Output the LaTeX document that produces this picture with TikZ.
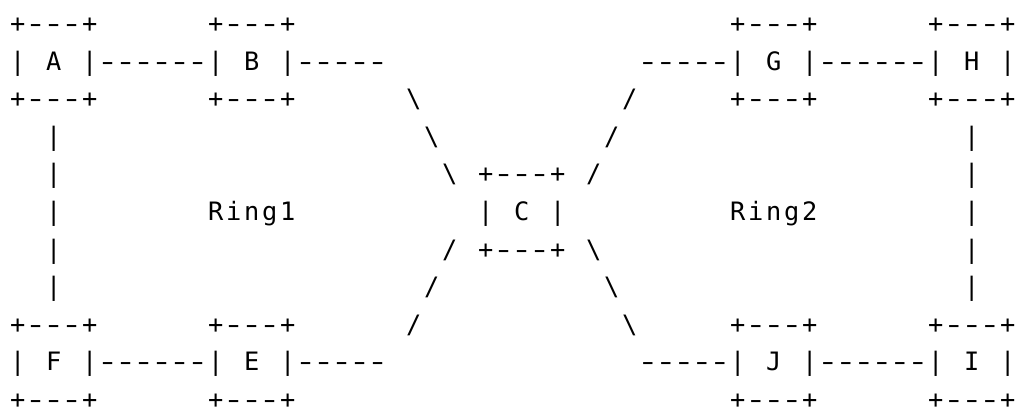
\documentclass[tikz,border=0pt]{standalone}
\usepackage{fontspec}
\usepackage{graphicx}
\newfontfamily\asciifont{DejaVu Sans Mono}
\newcommand\bs{\textbackslash}
\newcommand\cellbox[1]{\makebox[13.5pt][c]{#1}}
\def\cellseq#1{\ifx#1\relax\else\ifx#1.\cellbox{}\else\ifx#1-\cellbox{\scalebox{1.45}[1]{-}}\else\cellbox{#1}\fi\fi\expandafter\cellseq\fi}
\tikzset{
  frag/.style={anchor=base west, inner sep=0pt, outer sep=0pt, text=black,
    font=\asciifont\fontsize{19pt}{19pt}\selectfont}
}
\newcommand\frag[4]{\node[frag] (#1) at ({8.8+18*#3},{32.6+37.6*(#2-1)}) {\cellseq#4\relax};}
\begin{document}
\begin{tikzpicture}[x=0.75pt,y=-0.75pt]
\fill[white] (0,0) rectangle (1017,409);
\useasboundingbox (0,0) rectangle (1017,409);
% row 1
\frag{Atop}{1}{0}{+---+}
\frag{Btop}{1}{11}{+---+}
\frag{Gtop}{1}{40}{+---+}
\frag{Htop}{1}{51}{+---+}
% row 2
\frag{A}{2}{0}{|.A.|}
\frag{AB}{2}{5}{------}
\frag{B}{2}{11}{|.B.|}
\frag{Bout}{2}{16}{-----}
\frag{Gin}{2}{35}{-----}
\frag{G}{2}{40}{|.G.|}
\frag{GH}{2}{45}{------}
\frag{H}{2}{51}{|.H.|}
% row 3
\frag{Abot}{3}{0}{+---+}
\frag{Bbot}{3}{11}{+---+}
\frag{BC1}{3}{22}{\bs}
\frag{GC1}{3}{34}{/}
\frag{Gbot}{3}{40}{+---+}
\frag{Hbot}{3}{51}{+---+}
% row 4
\frag{AF1}{4}{2}{|}
\frag{BC2}{4}{23}{\bs}
\frag{GC2}{4}{33}{/}
\frag{HI1}{4}{53}{|}
% row 5
\frag{AF2}{5}{2}{|}
\frag{BC3}{5}{24}{\bs}
\frag{Ctop}{5}{26}{+---+}
\frag{GC3}{5}{32}{/}
\frag{HI2}{5}{53}{|}
% row 6
\frag{AF3}{6}{2}{|}
\frag{ring1}{6}{11}{Ring1}
\frag{C}{6}{26}{|.C.|}
\frag{ring2}{6}{40}{Ring2}
\frag{HI3}{6}{53}{|}
% row 7
\frag{AF4}{7}{2}{|}
\frag{EC3}{7}{24}{/}
\frag{Cbot}{7}{26}{+---+}
\frag{JC3}{7}{32}{\bs}
\frag{HI4}{7}{53}{|}
% row 8
\frag{AF5}{8}{2}{|}
\frag{EC2}{8}{23}{/}
\frag{JC2}{8}{33}{\bs}
\frag{HI5}{8}{53}{|}
% row 9
\frag{Ftop}{9}{0}{+---+}
\frag{Etop}{9}{11}{+---+}
\frag{EC1}{9}{22}{/}
\frag{JC1}{9}{34}{\bs}
\frag{Jtop}{9}{40}{+---+}
\frag{Itop}{9}{51}{+---+}
% row 10
\frag{F}{10}{0}{|.F.|}
\frag{FE}{10}{5}{------}
\frag{E}{10}{11}{|.E.|}
\frag{Eout}{10}{16}{-----}
\frag{Jin}{10}{35}{-----}
\frag{J}{10}{40}{|.J.|}
\frag{JI}{10}{45}{------}
\frag{I}{10}{51}{|.I.|}
% row 11
\frag{Fbot}{11}{0}{+---+}
\frag{Ebot}{11}{11}{+---+}
\frag{Jbot}{11}{40}{+---+}
\frag{Ibot}{11}{51}{+---+}
\end{tikzpicture}
\end{document}
